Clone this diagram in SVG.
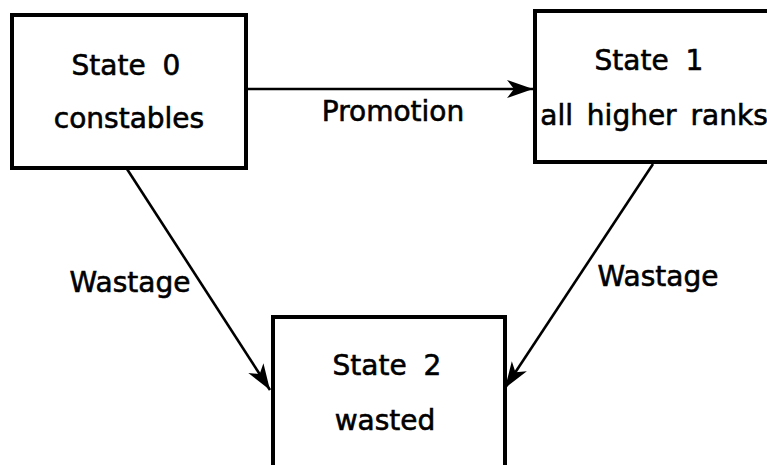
<svg xmlns="http://www.w3.org/2000/svg" width="767" height="465" viewBox="0 0 767 465">
<style>
.box{fill:#fff;stroke:#000;stroke-width:4}
.t{font-family:"DejaVu Sans","Liberation Sans",sans-serif;font-size:28px;fill:#000;stroke:#000;stroke-width:0.6;text-anchor:middle}
.s{word-spacing:8px}
.edge{stroke:#000;stroke-width:2.6;fill:none}
</style>
<defs>
<marker id="ah" markerUnits="userSpaceOnUse" markerWidth="28" markerHeight="22" viewBox="0 0 28 22" refX="26" refY="11" orient="auto">
<path d="M0,2 L26,11 L0,20 L7,11 Z" fill="#000"/>
</marker>
</defs>
<rect width="767" height="465" fill="#fff"/>
<g id="connectors">
<line class="edge" x1="247" y1="89" x2="533" y2="89" marker-end="url(#ah)"/>
<line class="edge" x1="127" y1="169" x2="270" y2="390" marker-end="url(#ah)"/>
<line class="edge" x1="653" y1="164" x2="505" y2="388" marker-end="url(#ah)"/>
<text class="t" x="393" y="121">Promotion</text>
<text class="t" x="130" y="292">Wastage</text>
<text class="t" x="658" y="286">Wastage</text>
</g>
<g id="state0">
<rect class="box" x="12" y="15" width="234" height="153"/>
<text class="t s" x="126" y="75">State 0</text>
<text class="t" x="129" y="128">constables</text>
</g>
<g id="state1">
<rect class="box" x="535" y="11" width="250" height="151"/>
<text class="t s" x="649" y="70">State 1</text>
<text class="t" x="654" y="125" style="word-spacing:5px">all higher ranks</text>
</g>
<g id="state2">
<rect class="box" x="273" y="317" width="232" height="160"/>
<text class="t s" x="387" y="375">State 2</text>
<text class="t" x="385" y="430">wasted</text>
</g>
</svg>
